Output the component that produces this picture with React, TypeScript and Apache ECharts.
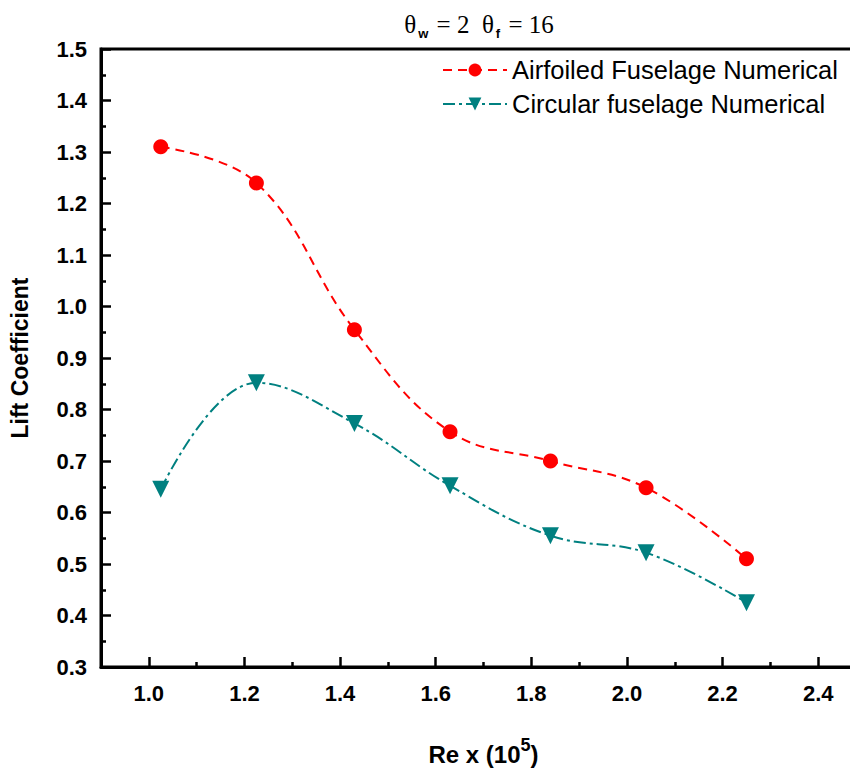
import React, { useEffect, useRef } from "react";
import * as echarts from "echarts";

const reValues = [1.025, 1.225, 1.43, 1.63, 1.84, 2.04, 2.25];
const airfoiledLift = [1.31, 1.24, 0.955, 0.757, 0.70, 0.648, 0.51];
const circularLift = [0.645, 0.852, 0.773, 0.652, 0.555, 0.522, 0.425];
const xMajorTicks = [1.0, 1.2, 1.4, 1.6, 1.8, 2.0, 2.2, 2.4];
const xMinorTicks = [1.1, 1.3, 1.5, 1.7, 1.9, 2.1, 2.3, 2.5];

const seriesNames = ["Airfoiled Fuselage Numerical", "Circular fuselage Numerical"];

export default function App() {
  const ref = useRef<HTMLDivElement>(null);
  useEffect(() => {
    if (!ref.current) return;
    const chart = echarts.init(ref.current, null, { renderer: "svg" });
    const font = "Liberation Sans, Arial, sans-serif";
    const serif = "Liberation Serif, Times New Roman, serif";
    const pair = (xs: number[], ys: number[]) => xs.map((x, i) => [x, ys[i]]);
    chart.setOption({
      animation: false,
      backgroundColor: "#ffffff",
      title: {
        text: "{t|θ}{s|w}{t| = 2  θ}{s|f}{t| = 16}",
        left: 474,
        textAlign: "center",
        top: 4,
        textStyle: {
          fontWeight: "normal",
          rich: {
            t: { fontFamily: serif, fontSize: 25, fontWeight: "normal", color: "#000", lineHeight: 30 },
            s: { fontFamily: font, fontSize: 13, fontWeight: "bold", color: "#000", lineHeight: 30, padding: [18, 2, 0, 2] },
          },
        },
      },
      legend: {
        orient: "vertical",
        left: 437,
        top: 52,
        itemWidth: 64,
        itemHeight: 16,
        itemGap: 8,
        textStyle: { fontFamily: font, fontSize: 25.5, color: "#000", padding: [0, 0, 0, 0] },
        data: seriesNames,
      },
      grid: {
        left: 101,
        top: 49,
        right: -16,
        bottom: 109,
        show: true,
        borderColor: "#000",
        borderWidth: 3,
        containLabel: false,
        outerBoundsMode: "none",
      },
      xAxis: [
        {
          type: "value",
          min: 0.9,
          max: 2.5,
          splitLine: { show: false },
          axisLine: { show: true, lineStyle: { color: "#000", width: 3 } },
          axisTick: { show: true, inside: true, length: 10, lineStyle: { color: "#000", width: 2.5 }, customValues: xMajorTicks },
          axisLabel: {
            customValues: xMajorTicks,
            formatter: (v: number) => v.toFixed(1),
            fontFamily: font,
            fontWeight: "bold",
            fontSize: 22,
            color: "#000",
            margin: 15,
          },
          name: "{a|Re x (10}{b|5}{a|)}",
          nameLocation: "middle",
          nameGap: 68,
          nameTextStyle: {
            rich: {
              a: { fontFamily: font, fontWeight: "bold", fontSize: 24, color: "#000", lineHeight: 30, padding: [8, 0, 0, 0] },
              b: { fontFamily: font, fontWeight: "bold", fontSize: 18, color: "#000", lineHeight: 30, padding: [0, 0, 10, 0] },
            },
          },
        },
        {
          type: "value",
          min: 0.9,
          max: 2.5,
          position: "bottom",
          splitLine: { show: false },
          axisLine: { show: false },
          axisTick: { show: true, inside: true, length: 5, lineStyle: { color: "#000", width: 2.5 }, customValues: xMinorTicks },
          axisLabel: { show: false },
        },
      ],
      yAxis: {
        type: "value",
        min: 0.3,
        max: 1.5,
        interval: 0.1,
        splitLine: { show: false },
        axisLine: { show: true, lineStyle: { color: "#000", width: 3 } },
        axisTick: { show: true, inside: true, length: 10, lineStyle: { color: "#000", width: 2.5 } },
        minorTick: { show: true, splitNumber: 2, length: 5, lineStyle: { color: "#000", width: 2.5 } },
        axisLabel: {
          formatter: (v: number) => v.toFixed(1),
          fontFamily: font,
          fontWeight: "bold",
          fontSize: 22,
          color: "#000",
          margin: 14,
        },
        name: "Lift Coefficient",
        nameLocation: "middle",
        nameGap: 70,
        nameTextStyle: { fontFamily: font, fontWeight: "bold", fontSize: 23, color: "#000" },
      },
      series: [
        {
          name: seriesNames[0],
          type: "line",
          smooth: 0.4,
          data: pair(reValues, airfoiledLift),
          symbol: "circle",
          symbolSize: 15,
          itemStyle: { color: "#ff0000" },
          lineStyle: { color: "#ff0000", width: 2, type: [9, 6] },
        },
        {
          name: seriesNames[1],
          type: "line",
          smooth: 0.4,
          data: pair(reValues, circularLift),
          symbol: "triangle",
          symbolRotate: 180,
          symbolSize: 17,
          itemStyle: { color: "#008080" },
          lineStyle: { color: "#008080", width: 2, type: [12, 4, 3, 4] },
        },
      ],
    });
    return () => chart.dispose();
  }, []);
  return <div ref={ref} style={{ position: "absolute", left: 0, top: 0, width: 850, height: 776 }} />;
}
